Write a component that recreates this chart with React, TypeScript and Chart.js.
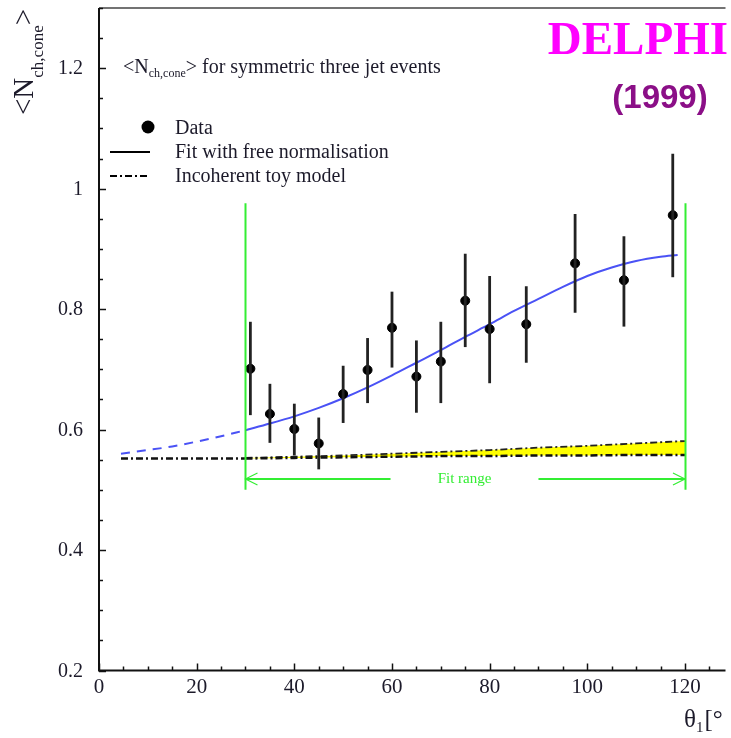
import React, { useEffect, useRef } from "react";
import { Chart, registerables } from "chart.js";

Chart.register(...registerables);

// ---------- data ----------
const dataX = [31, 35, 40, 45, 50, 55, 60, 65, 70, 75, 80, 87.5, 97.5, 107.5, 117.5];
const dataY = [0.701, 0.626, 0.601, 0.577, 0.659, 0.699, 0.769, 0.688, 0.713, 0.814, 0.767, 0.775, 0.876, 0.848, 0.956];
const dataHi = [0.779, 0.676, 0.643, 0.62, 0.706, 0.752, 0.829, 0.748, 0.779, 0.892, 0.855, 0.838, 0.958, 0.921, 1.058];
const dataLo = [0.624, 0.578, 0.557, 0.534, 0.611, 0.644, 0.703, 0.628, 0.644, 0.737, 0.677, 0.711, 0.794, 0.771, 0.853];

const fitDashX = [4.5, 10, 15, 20, 25, 30];
const fitDashY = [0.56, 0.566, 0.572, 0.58, 0.589, 0.599];
const fitX = [30, 35, 40, 45, 50, 55, 60, 65, 70, 75, 80, 85, 90, 95, 100, 105, 110, 115, 118.5];
const fitY = [0.599, 0.61, 0.622, 0.636, 0.652, 0.67, 0.69, 0.711, 0.732, 0.754, 0.775, 0.797, 0.817, 0.837, 0.855, 0.869, 0.88, 0.887, 0.89];

const toyLeftX = [4.5, 30];
const toyLeftY = [0.552, 0.552];
const toyX = [30, 40, 50, 60, 70, 80, 90, 100, 110, 120];
const toyUpper = [0.553, 0.555, 0.557, 0.56, 0.563, 0.566, 0.57, 0.573, 0.577, 0.581];
const toyLower = [0.552, 0.553, 0.554, 0.555, 0.556, 0.556, 0.557, 0.557, 0.558, 0.558];

const fitRangeX = [30, 120];
const fitRangeBarY = [0.5, 0.976];
const fitArrowY = 0.518;
const fitArrowGap = [59.7, 90];
const fitRangeLabel = "Fit range";

const xMajorTicks = [0, 20, 40, 60, 80, 100, 120];
const xTickLabels = ["0", "20", "40", "60", "80", "100", "120"];
const yMajorTicks = [0.2, 0.4, 0.6, 0.8, 1.0, 1.2];
const yTickLabels = ["0.2", "0.4", "0.6", "0.8", "1", "1.2"];

const legendLabels = ["Data", "Fit with free normalisation", "Incoherent toy model"];
const titleMain = "N";
const titleSub = "ch,cone";
const titleRest = "> for symmetric three jet events";

const SERIF = '"Liberation Serif", "DejaVu Serif", serif';
const DASHDOT = [7, 3, 2, 3];

function pts(xs: number[], ys: number[]) {
  return xs.map((x, i) => ({ x, y: ys[i] }));
}

const overlay = {
  id: "overlay",
  afterDatasetsDraw(chart: any) {
    const ctx = chart.ctx;
    const xs = chart.scales.x;
    const ys = chart.scales.y;
    ctx.save();
    // error bars
    ctx.strokeStyle = "#222";
    ctx.lineWidth = 2.8;
    dataX.forEach((x, i) => {
      const px = xs.getPixelForValue(x);
      ctx.beginPath();
      ctx.moveTo(px, ys.getPixelForValue(dataHi[i]));
      ctx.lineTo(px, ys.getPixelForValue(dataLo[i]));
      ctx.stroke();
    });
    // fit range markers
    ctx.strokeStyle = "#33ee33";
    ctx.lineWidth = 2;
    fitRangeX.forEach((x) => {
      const px = Math.round(xs.getPixelForValue(x)) + 0.5;
      ctx.beginPath();
      ctx.moveTo(px, ys.getPixelForValue(fitRangeBarY[0]));
      ctx.lineTo(px, ys.getPixelForValue(fitRangeBarY[1]));
      ctx.stroke();
    });
    const ay = ys.getPixelForValue(fitArrowY);
    const l0 = xs.getPixelForValue(fitRangeX[0]);
    const l1 = xs.getPixelForValue(fitRangeX[1]);
    ctx.beginPath();
    ctx.moveTo(l0, ay);
    ctx.lineTo(xs.getPixelForValue(fitArrowGap[0]), ay);
    ctx.moveTo(xs.getPixelForValue(fitArrowGap[1]), ay);
    ctx.lineTo(l1, ay);
    ctx.stroke();
    ctx.lineWidth = 1.2;
    ctx.beginPath();
    ctx.moveTo(l0 + 12, ay - 6);
    ctx.lineTo(l0, ay);
    ctx.lineTo(l0 + 12, ay + 6);
    ctx.moveTo(l1 - 12, ay - 6);
    ctx.lineTo(l1, ay);
    ctx.lineTo(l1 - 12, ay + 6);
    ctx.stroke();
    ctx.fillStyle = "#33ee33";
    ctx.font = `15px ${SERIF}`;
    ctx.textAlign = "center";
    ctx.textBaseline = "middle";
    ctx.fillText(fitRangeLabel, (xs.getPixelForValue(fitArrowGap[0]) + xs.getPixelForValue(fitArrowGap[1])) / 2, ay);
    ctx.restore();
  },
  afterDraw(chart: any) {
    const ctx = chart.ctx;
    const xs = chart.scales.x;
    const ys = chart.scales.y;
    const a = chart.chartArea;
    ctx.save();
    // frame
    ctx.strokeStyle = "#111";
    ctx.lineWidth = 2;
    ctx.beginPath();
    ctx.moveTo(a.left, a.top);
    ctx.lineTo(a.left, a.bottom);
    ctx.lineTo(a.right, a.bottom);
    ctx.stroke();
    ctx.strokeStyle = "#444";
    ctx.lineWidth = 1.5;
    ctx.beginPath();
    ctx.moveTo(a.left, a.top);
    ctx.lineTo(a.right, a.top);
    ctx.stroke();
    // ticks
    ctx.strokeStyle = "#111";
    ctx.lineWidth = 1.5;
    for (let v = 0; v <= 128; v += 5) {
      const px = Math.round(xs.getPixelForValue(v)) + 0.5;
      const len = v % 20 === 0 ? 7 : 4;
      ctx.beginPath();
      ctx.moveTo(px, a.bottom);
      ctx.lineTo(px, a.bottom - len);
      ctx.stroke();
    }
    for (let k = 4; k <= 26; k++) {
      const v = k * 0.05;
      const py = Math.round(ys.getPixelForValue(v)) + 0.5;
      const len = k % 4 === 0 ? 7 : 4;
      ctx.beginPath();
      ctx.moveTo(a.left, py);
      ctx.lineTo(a.left + len, py);
      ctx.stroke();
    }
    // tick labels
    ctx.fillStyle = "#1c1a2a";
    ctx.font = `20px ${SERIF}`;
    ctx.textAlign = "right";
    ctx.textBaseline = "middle";
    yMajorTicks.forEach((v, i) => {
      ctx.fillText(yTickLabels[i], 83, ys.getPixelForValue(v) + 1);
    });
    ctx.font = `21px ${SERIF}`;
    ctx.textAlign = "center";
    ctx.textBaseline = "alphabetic";
    xMajorTicks.forEach((v, i) => {
      ctx.fillText(xTickLabels[i], xs.getPixelForValue(v), 693);
    });
    // x title
    ctx.textAlign = "left";
    ctx.font = `25px ${SERIF}`;
    ctx.fillText("\u03b8", 684, 727);
    const w = ctx.measureText("\u03b8").width;
    ctx.font = `15px ${SERIF}`;
    ctx.fillText("1", 684 + w, 732);
    const w1 = ctx.measureText("1").width;
    ctx.font = `25px ${SERIF}`;
    ctx.fillText("[\u00b0", 684 + w + w1 + 1, 727);
    // y title (rotated)
    ctx.save();
    ctx.translate(33, 115);
    ctx.rotate(-Math.PI / 2);
    ctx.font = `29px ${SERIF}`;
    ctx.fillText("<N", 0, 0);
    let off = ctx.measureText("<N").width;
    ctx.font = `17px ${SERIF}`;
    ctx.fillText(titleSub, off, 10);
    off += ctx.measureText(titleSub).width;
    ctx.font = `29px ${SERIF}`;
    ctx.fillText(">", off, 0);
    ctx.restore();
    // plot title
    ctx.fillStyle = "#1c1a2a";
    let tx = 123;
    ctx.font = `20px ${SERIF}`;
    ctx.fillText("<" + titleMain, tx, 73);
    tx += ctx.measureText("<" + titleMain).width;
    ctx.font = `12px ${SERIF}`;
    ctx.fillText(titleSub, tx, 77);
    tx += ctx.measureText(titleSub).width;
    ctx.font = `20px ${SERIF}`;
    ctx.fillText(titleRest, tx, 73);
    // legend
    ctx.fillStyle = "#000";
    ctx.beginPath();
    ctx.arc(148, 127, 6.5, 0, Math.PI * 2);
    ctx.fill();
    ctx.strokeStyle = "#000";
    ctx.lineWidth = 2;
    ctx.beginPath();
    ctx.moveTo(110, 152);
    ctx.lineTo(150, 152);
    ctx.stroke();
    ctx.setLineDash(DASHDOT);
    ctx.beginPath();
    ctx.moveTo(110, 176);
    ctx.lineTo(150, 176);
    ctx.stroke();
    ctx.setLineDash([]);
    ctx.fillStyle = "#1c1a2a";
    ctx.font = `20px ${SERIF}`;
    ctx.fillText(legendLabels[0], 175, 134);
    ctx.fillText(legendLabels[1], 175, 158);
    ctx.fillText(legendLabels[2], 175, 182);
    // DELPHI
    ctx.fillStyle = "#ff00ff";
    ctx.font = `bold 47px ${SERIF}`;
    ctx.textAlign = "right";
    ctx.fillText("DELPHI", 728, 54);
    ctx.fillStyle = "#8b0f87";
    ctx.font = `bold 33px "Liberation Sans", Arial, sans-serif`;
    ctx.textAlign = "center";
    ctx.fillText("(1999)", 660, 108);
    ctx.restore();
  },
};

export default function App() {
  const ref = useRef<HTMLCanvasElement | null>(null);
  useEffect(() => {
    document.body.style.margin = "0";
    const canvas = ref.current!;
    const chart = new Chart(canvas, {
      type: "scatter",
      data: {
        datasets: [
          {
            label: "Data",
            data: pts(dataX, dataY),
            showLine: false,
            pointRadius: 4.5,
            pointBackgroundColor: "#000",
            pointBorderColor: "#000",
            order: 0,
          },
          {
            label: "Fit",
            data: pts(fitX, fitY),
            showLine: true,
            borderColor: "#4a52f5",
            borderWidth: 2,
            pointRadius: 0,
            cubicInterpolationMode: "monotone",
            fill: false,
            order: 1,
          },
          {
            label: "Fit extrapolated",
            data: pts(fitDashX, fitDashY),
            showLine: true,
            borderColor: "#4a52f5",
            borderWidth: 2,
            borderDash: [9, 7],
            pointRadius: 0,
            cubicInterpolationMode: "monotone",
            fill: false,
            order: 1,
          },
          {
            label: "Toy lower",
            data: pts(toyX, toyLower),
            showLine: true,
            borderColor: "#111",
            borderWidth: 2.5,
            borderDash: DASHDOT,
            pointRadius: 0,
            fill: false,
            order: 2,
          },
          {
            label: "Toy upper",
            data: pts(toyX, toyUpper),
            showLine: true,
            borderColor: "#222",
            borderWidth: 1.8,
            borderDash: DASHDOT,
            pointRadius: 0,
            fill: { target: 3, above: "#ffff00", below: "#ffff00" },
            backgroundColor: "#ffff00",
            order: 3,
          },
          {
            label: "Toy left",
            data: pts(toyLeftX, toyLeftY),
            showLine: true,
            borderColor: "#111",
            borderWidth: 2.5,
            borderDash: DASHDOT,
            pointRadius: 0,
            fill: false,
            order: 2,
          },
        ],
      },
      options: {
        responsive: false,
        animation: false,
        devicePixelRatio: 1,
        layout: { padding: { left: 99, right: 0, top: 8, bottom: 67.5 } },
        plugins: { legend: { display: false }, tooltip: { enabled: false } },
        scales: {
          x: { type: "linear", min: 0, max: 128.3, display: false },
          y: { type: "linear", min: 0.2, max: 1.3, display: false },
        },
      },
      plugins: [overlay],
    });
    return () => chart.destroy();
  }, []);
  return <canvas ref={ref} width={731} height={738} style={{ display: "block" }} />;
}
